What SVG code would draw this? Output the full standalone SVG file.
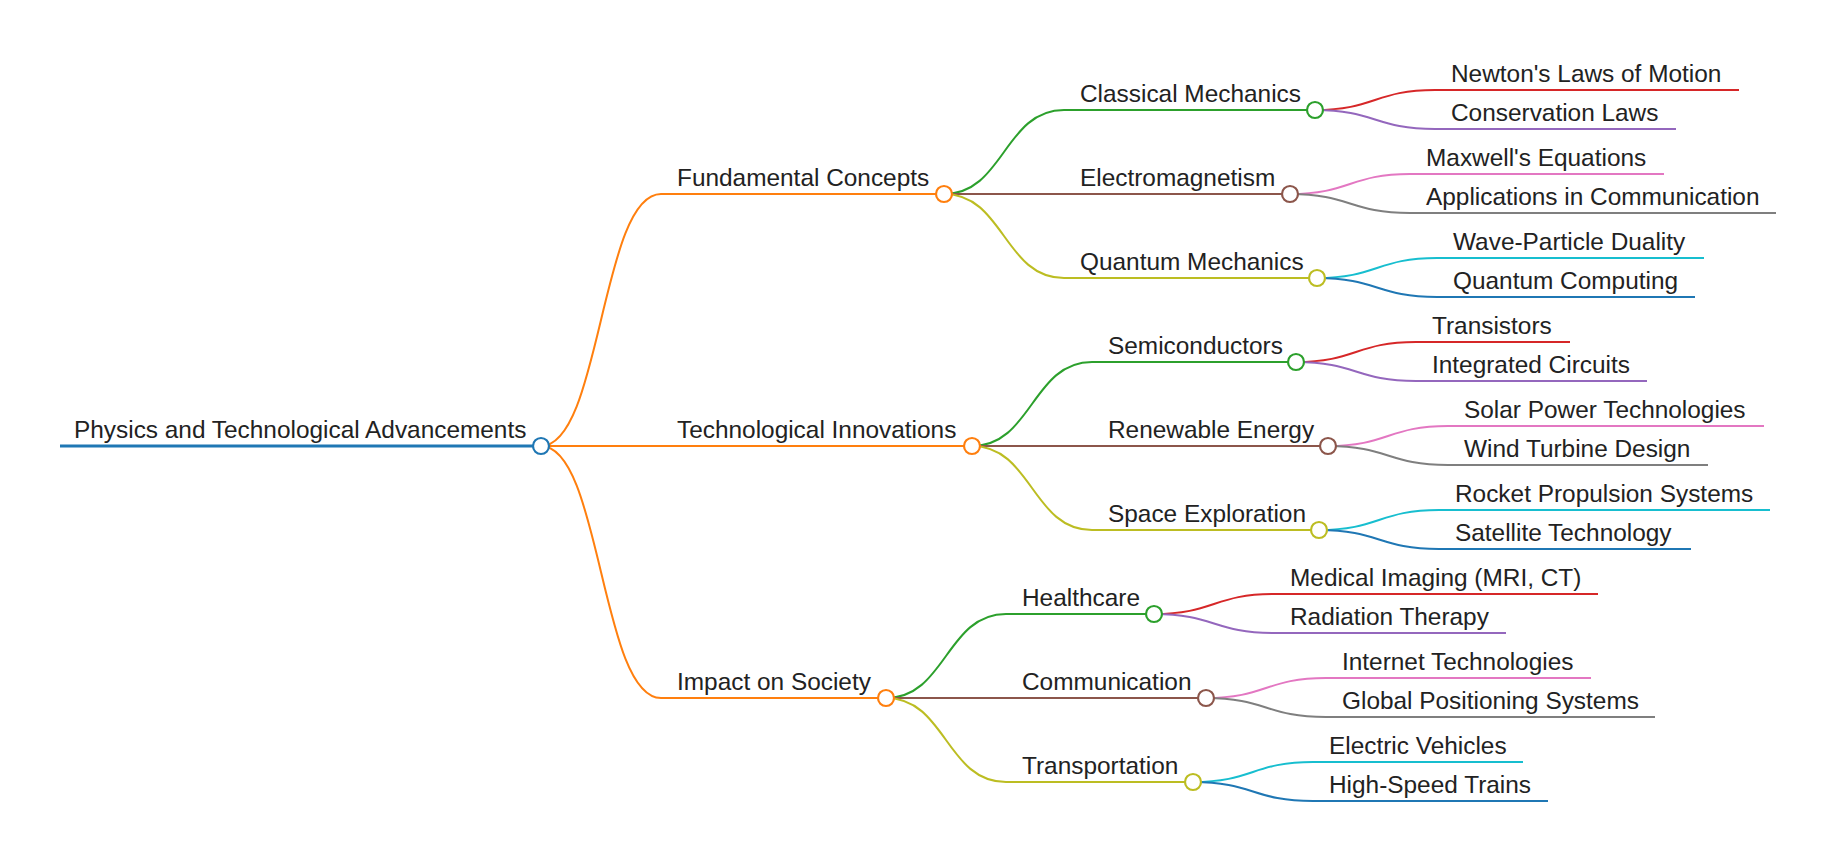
<svg xmlns="http://www.w3.org/2000/svg" width="1836" height="862" viewBox="0 0 1836 862">
<style>
text{font-family:"Liberation Sans",Arial,sans-serif;font-size:24.4px;fill:#222}
.l{fill:none;stroke-width:2}
.n{fill:none;stroke-width:2}
circle{fill:#fff;stroke-width:2.2}
.c0{stroke:#1f77b4}.c1{stroke:#ff7f0e}.c2{stroke:#2ca02c}.c3{stroke:#d62728}.c4{stroke:#9467bd}
.c5{stroke:#8c564b}.c6{stroke:#e377c2}.c7{stroke:#7f7f7f}.c8{stroke:#bcbd22}.c9{stroke:#17becf}
</style>
<rect width="1836" height="862" fill="#fff"/>
<g id="connectors">
<path class="l c1" d="M541,446 C601,446 601,194 661,194"/>
<path class="l c1" d="M541,446 C601,446 601,446 661,446"/>
<path class="l c1" d="M541,446 C601,446 601,698 661,698"/>
<path class="l c2" d="M944,194 C1004,194 1004,110 1064,110"/>
<path class="l c5" d="M944,194 C1004,194 1004,194 1064,194"/>
<path class="l c8" d="M944,194 C1004,194 1004,278 1064,278"/>
<path class="l c2" d="M972,446 C1032,446 1032,362 1092,362"/>
<path class="l c5" d="M972,446 C1032,446 1032,446 1092,446"/>
<path class="l c8" d="M972,446 C1032,446 1032,530 1092,530"/>
<path class="l c2" d="M886,698 C946,698 946,614 1006,614"/>
<path class="l c5" d="M886,698 C946,698 946,698 1006,698"/>
<path class="l c8" d="M886,698 C946,698 946,782 1006,782"/>
<path class="l c3" d="M1315,110 C1375,110 1375,90 1435,90"/>
<path class="l c4" d="M1315,110 C1375,110 1375,129 1435,129"/>
<path class="l c6" d="M1290,194 C1350,194 1350,174 1410,174"/>
<path class="l c7" d="M1290,194 C1350,194 1350,213 1410,213"/>
<path class="l c9" d="M1317,278 C1377,278 1377,258 1437,258"/>
<path class="l c0" d="M1317,278 C1377,278 1377,297 1437,297"/>
<path class="l c3" d="M1296,362 C1356,362 1356,342 1416,342"/>
<path class="l c4" d="M1296,362 C1356,362 1356,381 1416,381"/>
<path class="l c6" d="M1328,446 C1388,446 1388,426 1448,426"/>
<path class="l c7" d="M1328,446 C1388,446 1388,465 1448,465"/>
<path class="l c9" d="M1319,530 C1379,530 1379,510 1439,510"/>
<path class="l c0" d="M1319,530 C1379,530 1379,549 1439,549"/>
<path class="l c3" d="M1154,614 C1214,614 1214,594 1274,594"/>
<path class="l c4" d="M1154,614 C1214,614 1214,633 1274,633"/>
<path class="l c6" d="M1206,698 C1266,698 1266,678 1326,678"/>
<path class="l c7" d="M1206,698 C1266,698 1266,717 1326,717"/>
<path class="l c9" d="M1193,782 C1253,782 1253,762 1313,762"/>
<path class="l c0" d="M1193,782 C1253,782 1253,801 1313,801"/>
</g>
<g id="root"><line class="n c0" style="stroke-width:3" x1="60" y1="446" x2="541" y2="446"/><circle class="c0" cx="541" cy="446" r="8"/><text x="74" y="438">Physics and Technological Advancements</text></g>
<g id="fundamental-concepts"><line class="n c1" x1="661" y1="194" x2="944" y2="194"/><circle class="c1" cx="944" cy="194" r="8"/><text x="677" y="186">Fundamental Concepts</text></g>
<g id="technological-innovations"><line class="n c1" x1="661" y1="446" x2="972" y2="446"/><circle class="c1" cx="972" cy="446" r="8"/><text x="677" y="438">Technological Innovations</text></g>
<g id="impact-on-society"><line class="n c1" x1="661" y1="698" x2="886" y2="698"/><circle class="c1" cx="886" cy="698" r="8"/><text x="677" y="690">Impact on Society</text></g>
<g id="classical-mechanics"><line class="n c2" x1="1064" y1="110" x2="1315" y2="110"/><circle class="c2" cx="1315" cy="110" r="8"/><text x="1080" y="102">Classical Mechanics</text></g>
<g id="electromagnetism"><line class="n c5" x1="1064" y1="194" x2="1290" y2="194"/><circle class="c5" cx="1290" cy="194" r="8"/><text x="1080" y="186">Electromagnetism</text></g>
<g id="quantum-mechanics"><line class="n c8" x1="1064" y1="278" x2="1317" y2="278"/><circle class="c8" cx="1317" cy="278" r="8"/><text x="1080" y="270">Quantum Mechanics</text></g>
<g id="semiconductors"><line class="n c2" x1="1092" y1="362" x2="1296" y2="362"/><circle class="c2" cx="1296" cy="362" r="8"/><text x="1108" y="354">Semiconductors</text></g>
<g id="renewable-energy"><line class="n c5" x1="1092" y1="446" x2="1328" y2="446"/><circle class="c5" cx="1328" cy="446" r="8"/><text x="1108" y="438">Renewable Energy</text></g>
<g id="space-exploration"><line class="n c8" x1="1092" y1="530" x2="1319" y2="530"/><circle class="c8" cx="1319" cy="530" r="8"/><text x="1108" y="522">Space Exploration</text></g>
<g id="healthcare"><line class="n c2" x1="1006" y1="614" x2="1154" y2="614"/><circle class="c2" cx="1154" cy="614" r="8"/><text x="1022" y="606">Healthcare</text></g>
<g id="communication"><line class="n c5" x1="1006" y1="698" x2="1206" y2="698"/><circle class="c5" cx="1206" cy="698" r="8"/><text x="1022" y="690">Communication</text></g>
<g id="transportation"><line class="n c8" x1="1006" y1="782" x2="1193" y2="782"/><circle class="c8" cx="1193" cy="782" r="8"/><text x="1022" y="774">Transportation</text></g>
<g id="newtons-laws"><line class="n c3" x1="1435" y1="90" x2="1739" y2="90"/><text x="1451" y="82">Newton's Laws of Motion</text></g>
<g id="conservation-laws"><line class="n c4" x1="1435" y1="129" x2="1676" y2="129"/><text x="1451" y="121">Conservation Laws</text></g>
<g id="maxwells-equations"><line class="n c6" x1="1410" y1="174" x2="1664" y2="174"/><text x="1426" y="166">Maxwell's Equations</text></g>
<g id="applications-in-communication"><line class="n c7" x1="1410" y1="213" x2="1776" y2="213"/><text x="1426" y="205">Applications in Communication</text></g>
<g id="wave-particle-duality"><line class="n c9" x1="1437" y1="258" x2="1704" y2="258"/><text x="1453" y="250">Wave-Particle Duality</text></g>
<g id="quantum-computing"><line class="n c0" x1="1437" y1="297" x2="1695" y2="297"/><text x="1453" y="289">Quantum Computing</text></g>
<g id="transistors"><line class="n c3" x1="1416" y1="342" x2="1570" y2="342"/><text x="1432" y="334">Transistors</text></g>
<g id="integrated-circuits"><line class="n c4" x1="1416" y1="381" x2="1647" y2="381"/><text x="1432" y="373">Integrated Circuits</text></g>
<g id="solar-power"><line class="n c6" x1="1448" y1="426" x2="1764" y2="426"/><text x="1464" y="418">Solar Power Technologies</text></g>
<g id="wind-turbine"><line class="n c7" x1="1448" y1="465" x2="1708" y2="465"/><text x="1464" y="457">Wind Turbine Design</text></g>
<g id="rocket-propulsion"><line class="n c9" x1="1439" y1="510" x2="1770" y2="510"/><text x="1455" y="502">Rocket Propulsion Systems</text></g>
<g id="satellite-technology"><line class="n c0" x1="1439" y1="549" x2="1691" y2="549"/><text x="1455" y="541">Satellite Technology</text></g>
<g id="medical-imaging"><line class="n c3" x1="1274" y1="594" x2="1598" y2="594"/><text x="1290" y="586">Medical Imaging (MRI, CT)</text></g>
<g id="radiation-therapy"><line class="n c4" x1="1274" y1="633" x2="1506" y2="633"/><text x="1290" y="625">Radiation Therapy</text></g>
<g id="internet-technologies"><line class="n c6" x1="1326" y1="678" x2="1591" y2="678"/><text x="1342" y="670">Internet Technologies</text></g>
<g id="gps"><line class="n c7" x1="1326" y1="717" x2="1655" y2="717"/><text x="1342" y="709">Global Positioning Systems</text></g>
<g id="electric-vehicles"><line class="n c9" x1="1313" y1="762" x2="1523" y2="762"/><text x="1329" y="754">Electric Vehicles</text></g>
<g id="high-speed-trains"><line class="n c0" x1="1313" y1="801" x2="1548" y2="801"/><text x="1329" y="793">High-Speed Trains</text></g>
</svg>
